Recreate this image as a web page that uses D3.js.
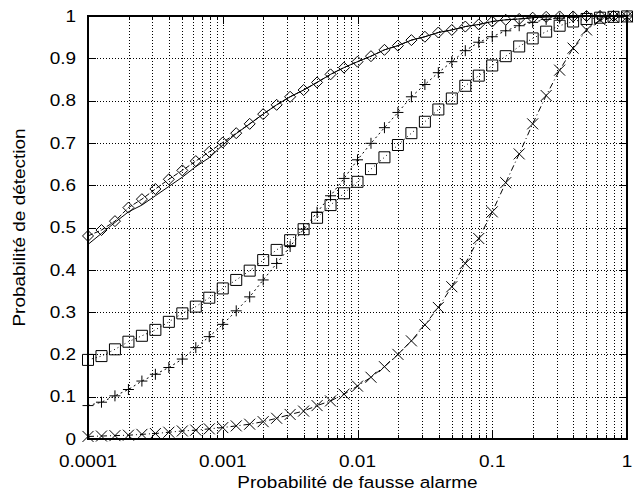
<!DOCTYPE html>
<html>
<head>
<meta charset="utf-8">
<script src="https://cdn.jsdelivr.net/npm/d3@7"></script>
<style>
  html, body { margin: 0; padding: 0; background: #fff; }
  svg { display: block; font-family: "Liberation Sans", Arial, Helvetica, sans-serif; }
</style>
</head>
<body>
<svg id="chart" width="643" height="495"></svg>
<script>
// False-alarm probabilities: 41 points, ten per decade from 1e-4 to 1
const pfaExponents = d3.range(0, 41).map(k => -4 + k / 10);
const pfa = pfaExponents.map(e => Math.pow(10, e));

// Detection probability for each detector
const pdSolid = [0.460, 0.486, 0.512, 0.537, 0.553, 0.575, 0.597, 0.619, 0.644, 0.665,
  0.695, 0.722, 0.745, 0.768, 0.790, 0.809, 0.825, 0.843, 0.862, 0.878,
  0.892, 0.905, 0.920, 0.930, 0.943, 0.951, 0.961, 0.967, 0.975, 0.980,
  0.987, 0.991, 0.993, 0.996, 0.998, 0.999, 0.999, 1.0, 1.0, 1.0, 1.0];
const pdDiamond = [0.480, 0.494, 0.515, 0.547, 0.567, 0.591, 0.614, 0.635, 0.657, 0.679,
  0.701, 0.723, 0.745, 0.768, 0.790, 0.809, 0.825, 0.843, 0.862, 0.878,
  0.892, 0.905, 0.920, 0.930, 0.943, 0.951, 0.961, 0.967, 0.975, 0.980,
  0.987, 0.991, 0.993, 0.996, 0.998, 0.999, 0.999, 1.0, 1.0, 1.0, 1.0];
const pdPlus = [0.079, 0.087, 0.102, 0.117, 0.137, 0.153, 0.169, 0.189, 0.216, 0.242,
  0.271, 0.303, 0.336, 0.376, 0.415, 0.455, 0.496, 0.536, 0.575, 0.616,
  0.660, 0.699, 0.736, 0.772, 0.809, 0.838, 0.866, 0.892, 0.918, 0.938,
  0.951, 0.965, 0.977, 0.985, 0.992, 0.995, 0.997, 0.999, 1.0, 1.0, 1.0];
const pdSquare = [0.187, 0.196, 0.212, 0.230, 0.244, 0.258, 0.277, 0.297, 0.313, 0.334,
  0.356, 0.376, 0.398, 0.423, 0.447, 0.470, 0.496, 0.523, 0.553, 0.581,
  0.608, 0.638, 0.666, 0.695, 0.723, 0.750, 0.779, 0.805, 0.835, 0.859,
  0.883, 0.905, 0.928, 0.947, 0.963, 0.977, 0.987, 0.993, 0.996, 0.998, 0.999];
const pdCross = [0.006, 0.007, 0.008, 0.009, 0.011, 0.013, 0.016, 0.019, 0.021, 0.024,
  0.027, 0.031, 0.035, 0.041, 0.049, 0.058, 0.066, 0.079, 0.090, 0.106,
  0.125, 0.146, 0.171, 0.200, 0.232, 0.270, 0.311, 0.360, 0.415, 0.474,
  0.537, 0.606, 0.674, 0.745, 0.812, 0.872, 0.924, 0.967, 0.991, 0.997, 0.998];

const xTickValues = [0.0001, 0.001, 0.01, 0.1, 1];
const xTickLabels = ["0.0001", "0.001", "0.01", "0.1", "1"];
const yTickValues = [0, 0.1, 0.2, 0.3, 0.4, 0.5, 0.6, 0.7, 0.8, 0.9, 1];
const yTickLabels = ["0", "0.1", "0.2", "0.3", "0.4", "0.5", "0.6", "0.7", "0.8", "0.9", "1"];

const xLabel = "Probabilité de fausse alarme";
const yLabel = "Probabilité de détection";

const svg = d3.select("#chart");
const plotL = 88, plotR = 627, plotT = 16, plotB = 439;
const stretch = 1.15; // slightly widened lettering

const x = d3.scaleLog().domain([1e-4, 1]).range([plotL, plotR]);
const y = d3.scaleLinear().domain([0, 1]).range([plotB, plotT]);

// Minor log positions (2..9 in each decade)
const minorX = [];
for (let d = -4; d < 0; d++) for (let m = 2; m <= 9; m++) minorX.push(m * Math.pow(10, d));

const grid = svg.append("g").attr("stroke", "#000").attr("stroke-width", 1)
  .attr("stroke-dasharray", "1,2").attr("shape-rendering", "crispEdges");
minorX.concat(xTickValues.slice(1, -1)).forEach(v => {
  grid.append("line").attr("x1", Math.round(x(v)) + 0.5).attr("x2", Math.round(x(v)) + 0.5)
    .attr("y1", plotT).attr("y2", plotB);
});
yTickValues.slice(1, -1).forEach(v => {
  grid.append("line").attr("x1", plotL).attr("x2", plotR)
    .attr("y1", Math.round(y(v)) + 0.5).attr("y2", Math.round(y(v)) + 0.5);
});

// Inward ticks on all four sides
const ticks = svg.append("g").attr("stroke", "#000").attr("stroke-width", 1).attr("shape-rendering", "crispEdges");
xTickValues.forEach(v => {
  const px = Math.round(x(v)) + 0.5;
  ticks.append("line").attr("x1", px).attr("x2", px).attr("y1", plotB).attr("y2", plotB - 8);
  ticks.append("line").attr("x1", px).attr("x2", px).attr("y1", plotT).attr("y2", plotT + 8);
});
minorX.forEach(v => {
  const px = Math.round(x(v)) + 0.5;
  ticks.append("line").attr("x1", px).attr("x2", px).attr("y1", plotB).attr("y2", plotB - 4);
  ticks.append("line").attr("x1", px).attr("x2", px).attr("y1", plotT).attr("y2", plotT + 4);
});
yTickValues.forEach(v => {
  const py = Math.round(y(v)) + 0.5;
  ticks.append("line").attr("x1", plotL).attr("x2", plotL + 8).attr("y1", py).attr("y2", py);
  ticks.append("line").attr("x1", plotR).attr("x2", plotR - 8).attr("y1", py).attr("y2", py);
});

// Curves
const line = d3.line().x((d, i) => x(pfa[i])).y(d => y(d));
const series = [
  { data: pdSolid, dash: null, marker: null },
  { data: pdDiamond, dash: "5,2", marker: "diamond" },
  { data: pdPlus, dash: "2,3", marker: "plus" },
  { data: pdSquare, dash: "1,3", marker: "square" },
  { data: pdCross, dash: "6,3,1,3", marker: "cross" }
];

const markerPath = {
  diamond: "M0,-5.5L5.5,0L0,5.5L-5.5,0Z",
  square: "M-5.5,-5.5H5.5V5.5H-5.5Z",
  plus: "M-5.5,0H5.5M0,-5.5V5.5",
  cross: "M-5.5,-5.5L5.5,5.5M-5.5,5.5L5.5,-5.5"
};

series.forEach(s => {
  svg.append("path").datum(s.data).attr("d", line)
    .attr("fill", "none").attr("stroke", "#000").attr("stroke-width", 1)
    .attr("stroke-dasharray", s.dash);
  if (s.marker) {
    svg.append("g").selectAll("path").data(s.data).join("path")
      .attr("transform", (d, i) => `translate(${x(pfa[i])},${y(d)})`)
      .attr("d", markerPath[s.marker])
      .attr("fill", "none").attr("stroke", "#000").attr("stroke-width", 1);
  }
});

// Frame
svg.append("rect").attr("x", plotL).attr("y", plotT).attr("width", plotR - plotL).attr("height", plotB - plotT)
  .attr("fill", "none").attr("stroke", "#000").attr("stroke-width", 2);

// Tick labels
svg.append("g").selectAll("text").data(xTickValues).join("text")
  .attr("transform", d => `translate(${x(d)},467) scale(${stretch},1)`)
  .attr("text-anchor", "middle")
  .attr("font-size", 16.5).text((d, i) => xTickLabels[i]);
svg.append("g").selectAll("text").data(yTickValues).join("text")
  .attr("transform", d => `translate(76,${y(d)}) scale(${stretch},1)`)
  .attr("dy", "0.35em").attr("text-anchor", "end")
  .attr("font-size", 16.5).text((d, i) => yTickLabels[i]);

// Axis titles
svg.append("text").attr("transform", `translate(${(plotL + plotR) / 2},488) scale(${stretch},1)`)
  .attr("text-anchor", "middle").attr("font-size", 16.5).text(xLabel);
svg.append("text").attr("transform", `translate(25,${(plotT + plotB) / 2}) rotate(-90) scale(${stretch},1)`)
  .attr("text-anchor", "middle").attr("font-size", 16.5).text(yLabel);
</script>
</body>
</html>
